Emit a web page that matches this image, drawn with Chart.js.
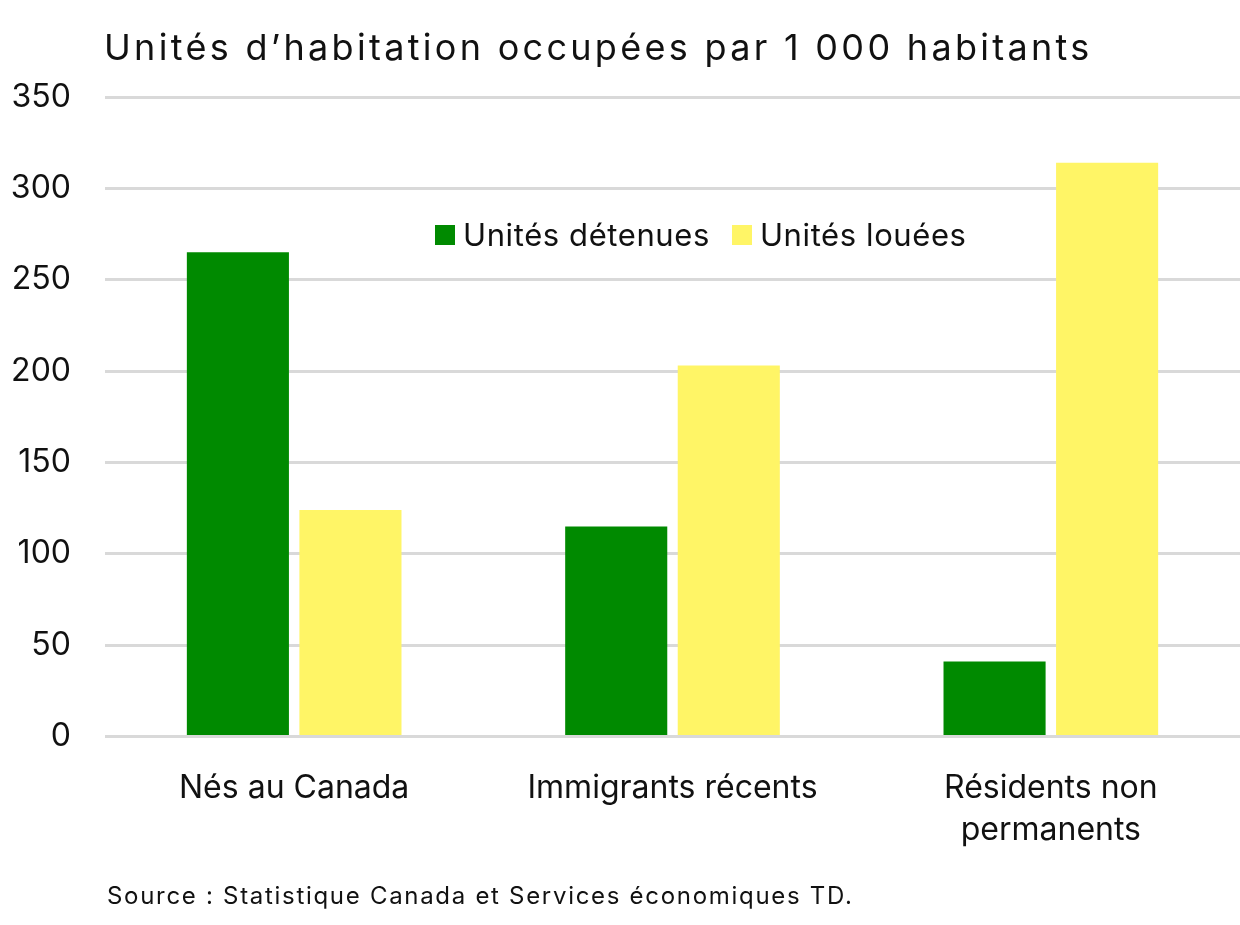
<!DOCTYPE html>
<html>
<head>
<meta charset="utf-8">
<script src="https://cdn.jsdelivr.net/npm/chart.js@4.4.1/dist/chart.umd.min.js"></script>
<style>
  body { margin: 0; background: #fff; font-family: Inter, "Noto Sans", sans-serif; }
  #wrap { position: relative; width: 1240px; height: 925px; }
  #title { position: absolute; left: 104px; top: 25px; font-size: 36px; color: #111; letter-spacing: 3.3px; white-space: nowrap; }
  #legend { position: absolute; left: 435px; top: 216px; display: flex; align-items: center; font-size: 31px; color: #111; white-space: nowrap; letter-spacing: 0.6px; }
  #legend span.box { display: inline-block; width: 20px; height: 20px; margin-right: 8px; }
  #legend span.item { display: flex; align-items: center; margin-right: 22px; }
  #source { position: absolute; left: 107px; top: 881px; font-size: 24px; color: #111; white-space: nowrap; letter-spacing: 1.7px; }
  canvas { position: absolute; left: 0; top: 0; }
</style>
</head>
<body>
<div id="wrap">
  <canvas id="mycanvas" width="1240" height="925"></canvas>
  <div id="title">Unités d’habitation occupées par 1 000 habitants</div>
  <div id="legend"></div>
  <div id="source">Source : Statistique Canada et Services économiques TD.</div>
</div>
<script>
var categories = [["Nés au Canada"], ["Immigrants récents"], ["Résidents non", "permanents"]];
var seriesNames = ["Unités détenues", "Unités louées"];
var owned = [265, 115, 41];
var rented = [124, 203, 314];
var yTicks = [0, 50, 100, 150, 200, 250, 300, 350];
var colors = ["#008a00", "#fff566"];

var legend = document.getElementById("legend");
seriesNames.forEach(function(name, i){
  var item = document.createElement("span");
  item.className = "item";
  item.innerHTML = '<span class="box" style="background:' + colors[i] + '"></span>' + name;
  legend.appendChild(item);
});

var ctx = document.getElementById("mycanvas");
var barGraph = new Chart(ctx, {
  type: 'bar',
  data: {
    labels: categories,
    datasets: [
      { label: seriesNames[0], data: owned, backgroundColor: colors[0], borderWidth: 0 },
      { label: seriesNames[1], data: rented, backgroundColor: colors[1], borderWidth: 0 }
    ]
  },
  options: {
    responsive: false,
    animation: false,
    devicePixelRatio: 1,
    categoryPercentage: 0.595,
    barPercentage: 0.907,
    layout: { padding: { top: 97, left: 0, right: 0, bottom: 70 } },
    plugins: { legend: { display: false }, tooltip: { enabled: false } },
    scales: {
      x: {
        grid: { display: false },
        border: { display: false },
        ticks: { color: '#111', font: { family: 'Inter', size: 32, lineHeight: 1.34 }, padding: 22, maxRotation: 0 },
        afterFit: function(s){ s.height = 925 - 70 - 736.5; }
      },
      y: {
        min: 0, max: 350,
        afterBuildTicks: function(s){ s.ticks = yTicks.map(function(v){ return { value: v }; }); },
        grid: { color: '#d9d9d9', lineWidth: 3, drawTicks: false },
        border: { display: false },
        ticks: { color: '#111', font: { family: 'Inter', size: 32 }, padding: 34 },
        afterFit: function(s){ s.width = 105; }
      }
    }
  }
});
</script>
</body>
</html>
